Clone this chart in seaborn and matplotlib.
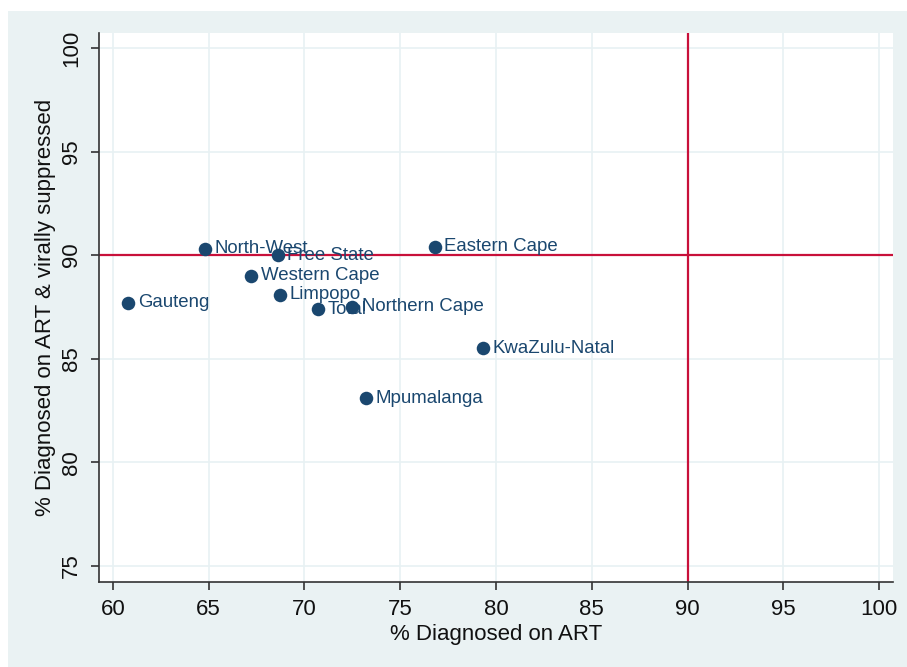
#!/usr/bin/env python3

import pandas as pd
import matplotlib
matplotlib.use('Agg')
import matplotlib.pyplot as plt
import seaborn as sns
from matplotlib.patches import Rectangle

provinces = ['Gauteng', 'North-West', 'Free State', 'Western Cape', 'Limpopo',
             'Total', 'Northern Cape', 'Eastern Cape', 'KwaZulu-Natal', 'Mpumalanga']
on_art = [60.8, 64.8, 68.6, 67.2, 68.7, 70.7, 72.5, 76.8, 79.3, 73.2]
suppressed = [87.7, 90.3, 90.0, 89.0, 88.1, 87.4, 87.5, 90.4, 85.5, 83.1]
ticks = [60, 65, 70, 75, 80, 85, 90, 95, 100]
yticks = [75, 80, 85, 90, 95, 100]

df = pd.DataFrame({'province': provinces, 'art': on_art, 'vs': suppressed})

navy = '#1a476f'
bg = '#eaf2f3'
grid_col = '#e8f1f3'
red = '#c8103a'

sns.set_style('white')
plt.rcParams['font.family'] = ['Liberation Sans', 'DejaVu Sans']

fig = plt.figure(figsize=(9.07, 6.67), dpi=100, facecolor='white')
# fond gris-bleu facon stata
fig.add_artist(Rectangle((8 / 907, 0), 1 - 8 / 907, 1 - 11 / 667,
                         transform=fig.transFigure, facecolor=bg,
                         edgecolor='none', zorder=-10))
ax = fig.add_axes([99 / 907, 1 - 582 / 667, (893 - 99) / 907, (582 - 33) / 667])
ax.set_zorder(5)
ax.set_facecolor('white')

ax.set_xlim(59.27, 100.73)
ax.set_ylim(74.23, 100.72)
ax.set_xticks(ticks)
ax.set_yticks(yticks)

for t in ticks:
    ax.axvline(t, color=grid_col, linewidth=1.2, zorder=1)
for t in yticks:
    ax.axhline(t, color=grid_col, linewidth=1.2, zorder=1)

ax.axvline(90, color=red, linewidth=1.6, zorder=2)
ax.axhline(90, color=red, linewidth=1.6, zorder=2)

sns.scatterplot(data=df, x='art', y='vs', color=navy, s=95,
                edgecolor=navy, linewidth=0, zorder=3, ax=ax)

for _, r in df.iterrows():
    ax.annotate(r['province'], (r['art'], r['vs']), xytext=(7, 0),
                textcoords='offset points', ha='left', va='center',
                fontsize=13.4, color=navy, zorder=4)

for s in ['top', 'right']:
    ax.spines[s].set_visible(False)
for s in ['left', 'bottom']:
    ax.spines[s].set_color('#333333')
    ax.spines[s].set_linewidth(1.2)

ax.tick_params(axis='both', direction='out', length=6, width=1.2,
               color='#333333', labelsize=16, labelcolor='#111111', pad=6,
               left=True, bottom=True)
plt.setp(ax.get_yticklabels(), rotation=90, va='center')

ax.set_xlabel('% Diagnosed on ART', fontsize=16, color='#111111', labelpad=3)
ax.set_ylabel('% Diagnosed on ART & virally suppressed', fontsize=16,
              color='#111111', labelpad=4)

plt.savefig('out.png', dpi=100, facecolor=fig.get_facecolor())
